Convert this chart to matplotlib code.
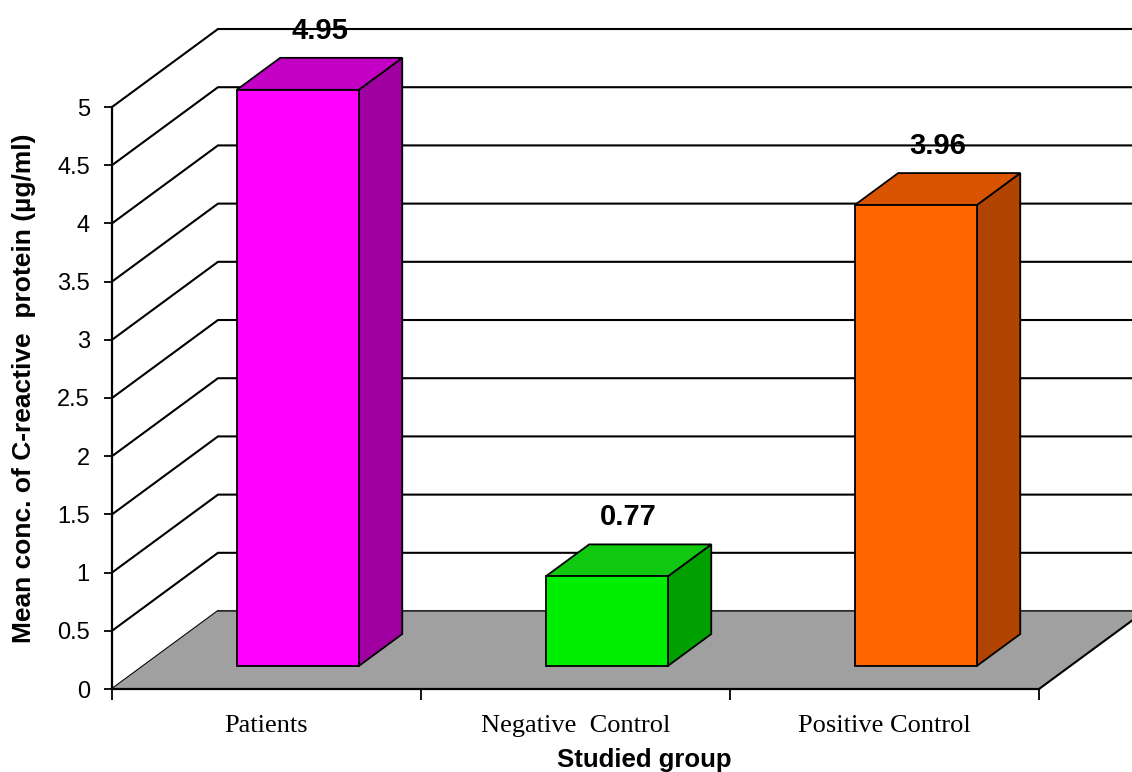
import matplotlib
matplotlib.use("Agg")
import matplotlib.pyplot as plt
import numpy as np
from matplotlib.patches import Polygon

# mean CRP concentration per group
groups = ["Patients", "Negative  Control", "Positive Control"]
crp_means = [4.95, 0.77, 3.96]

front_colors = ["#ff00ff", "#00ee00", "#ff6600"]
top_colors = ["#c400c4", "#10c810", "#d95400"]
side_colors = ["#a000a0", "#00a000", "#b04400"]

y_ticks = np.arange(0, 5.01, 0.5)

# fake 3d: how far the back wall sits from the front plane (data units)
DX = 0.343
DY = 0.670
bar_w = 0.395
bar_depth = 0.41
d0 = (1 - bar_depth) / 2

fig = plt.figure(figsize=(11.32, 7.72), dpi=100)
ax = fig.add_axes([112 / 1132, 83 / 772, 927 / 1132, 582 / 772])
ax.set_xlim(0, 3)
ax.set_ylim(0, 5)
ax.patch.set_visible(False)
for s in ["top", "right"]:
    ax.spines[s].set_visible(False)
ax.spines["left"].set_linewidth(1.6)
ax.spines["bottom"].set_linewidth(1.6)
ax.spines["left"].set_zorder(6)
ax.spines["bottom"].set_zorder(6)

# walls: diagonal on the side wall, then straight across the back
x_far = 3 + DX
for v in y_ticks:
    ax.plot([0, DX, x_far], [v, v + DY, v + DY], color="black", lw=1.5,
            clip_on=False, zorder=1, solid_joinstyle="miter")

# floor
floor = Polygon([(0, 0), (3, 0), (3 + DX, DY), (DX, DY)], closed=True,
                facecolor="#a0a0a0", edgecolor="none", clip_on=False, zorder=2)
ax.add_patch(floor)
ax.plot([3, 3 + DX], [0, DY], color="black", lw=1.5, clip_on=False, zorder=3)
ax.plot([DX, x_far], [DY, DY], color="#333333", lw=1.2, clip_on=False, zorder=3)

# bars
for i, val in enumerate(crp_means):
    xl = i + 0.5 - bar_w / 2 + d0 * DX
    xr = xl + bar_w
    yb = d0 * DY
    yt = yb + val
    ox, oy = bar_depth * DX, bar_depth * DY
    faces = [
        ([(xr, yb), (xr + ox, yb + oy), (xr + ox, yt + oy), (xr, yt)], side_colors[i]),
        ([(xl, yt), (xr, yt), (xr + ox, yt + oy), (xl + ox, yt + oy)], top_colors[i]),
        ([(xl, yb), (xr, yb), (xr, yt), (xl, yt)], front_colors[i]),
    ]
    for pts, c in faces:
        ax.add_patch(Polygon(pts, closed=True, facecolor=c, edgecolor="black",
                             lw=1.3, joinstyle="miter", clip_on=False, zorder=4))
    ax.text(i + 0.5 + 0.5 * DX, val + 0.5 * DY + 0.37, f"{val:.2f}",
            ha="center", va="center", fontsize=21, fontweight="bold",
            family="Liberation Sans", zorder=5)

# axes ticks and labels
ax.set_yticks(y_ticks)
ax.set_yticklabels([f"{v:g}" for v in y_ticks], family="Liberation Sans", fontsize=17)
ax.tick_params(axis="y", direction="out", length=6, width=1.3, pad=10)

ax.set_xticks([0, 1, 2, 3])
ax.set_xticklabels([])
ax.set_xticks([0.5, 1.5, 2.5], minor=True)
ax.set_xticklabels(groups, minor=True, family="Liberation Serif", fontsize=19)
ax.tick_params(axis="x", which="major", direction="out", length=8, width=1.3)
ax.tick_params(axis="x", which="minor", length=0, pad=19)

ax.set_xlabel("Studied group", fontsize=18.5, fontweight="bold",
              family="Liberation Sans")
ax.xaxis.set_label_coords(0.574, -0.102)
ax.set_ylabel("Mean conc. of C-reactive  protein (\u00b5g/ml)", fontsize=19,
              fontweight="bold", family="Liberation Sans")
ax.yaxis.set_label_coords(-0.082, 0.517)

fig.savefig("out.png", dpi=100)
